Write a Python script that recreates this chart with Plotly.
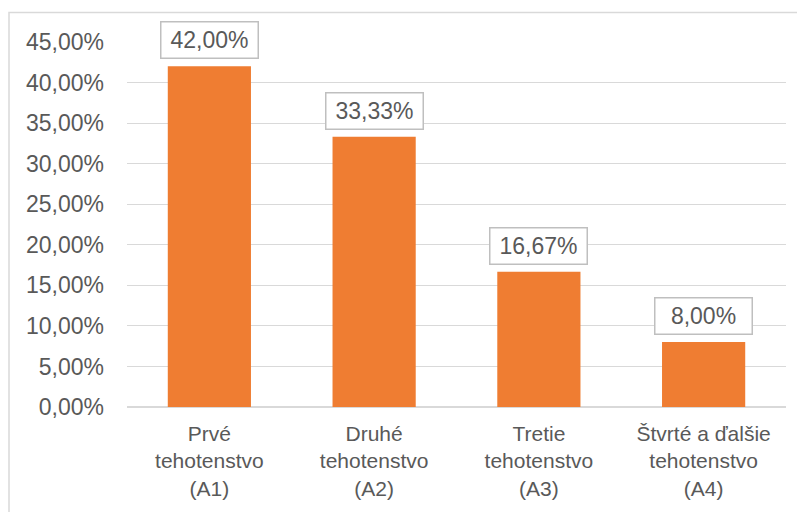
import plotly.graph_objects as go

categories = ["Prvé<br>tehotenstvo<br>(A1)", "Druhé<br>tehotenstvo<br>(A2)",
              "Tretie<br>tehotenstvo<br>(A3)", "Štvrté a ďalšie<br>tehotenstvo<br>(A4)"]
values = [0.42, 0.3333, 0.1667, 0.08]
tick_vals = [0, 0.05, 0.10, 0.15, 0.20, 0.25, 0.30, 0.35, 0.40, 0.45]

# the page body adds an 8px margin, so the figure is sized to fit inside it
W, H = 797, 504
L, R, T, B = 119, 19, 33.5, 104.5
plot_w = W - L - R
plot_h = H - T - B
FONT = 'Liberation Sans, Arial'

fig = go.Figure()
fig.add_trace(go.Bar(
    x=categories, y=values,
    width=0.505,
    marker=dict(color='#EF7D32', line=dict(width=0)),
    hoverinfo='skip'
))

# data labels in grey boxes
for c, v in zip(categories, values):
    fig.add_annotation(
        x=c, y=v, text=f"{v*100:.2f}%".replace('.', ','),
        showarrow=False, yanchor='bottom', yshift=7,
        width=92, height=31, align='center', valign='middle',
        font=dict(family=FONT, size=23, color='#595959'),
        bordercolor='#BFBFBF', borderwidth=1.5, borderpad=2, bgcolor='white'
    )

# outer chart border (left and top edges visible)
fig.add_shape(type='rect', xref='paper', yref='paper',
              x0=(1 - L) / plot_w, x1=(W + 20 - L) / plot_w,
              y0=-(H + 20 - T - plot_h) / plot_h, y1=(H - B - 4) / plot_h,
              line=dict(color='#D9D9D9', width=1.5), layer='below')

fig.update_xaxes(
    showgrid=False, showline=False, ticks='', automargin=False,
    ticklabelstandoff=12,
    tickfont=dict(family=FONT, size=21, color='#595959'),
)
fig.update_yaxes(
    range=[0, 0.45], tickvals=tick_vals, tickformat='.2%',
    showgrid=True, gridcolor='#D9D9D9', gridwidth=1,
    zeroline=True, zerolinecolor='#D9D9D9', zerolinewidth=2,
    showline=False, ticks='', ticklabelstandoff=22, automargin=False,
    tickfont=dict(family=FONT, size=23, color='#595959'),
)

fig.update_layout(
    width=W, height=H,
    margin=dict(l=L, r=R, t=T, b=B, pad=0),
    separators=', ',
    plot_bgcolor='white', paper_bgcolor='white',
    showlegend=False, bargap=0.5,
)

fig.write_html("out.html")
